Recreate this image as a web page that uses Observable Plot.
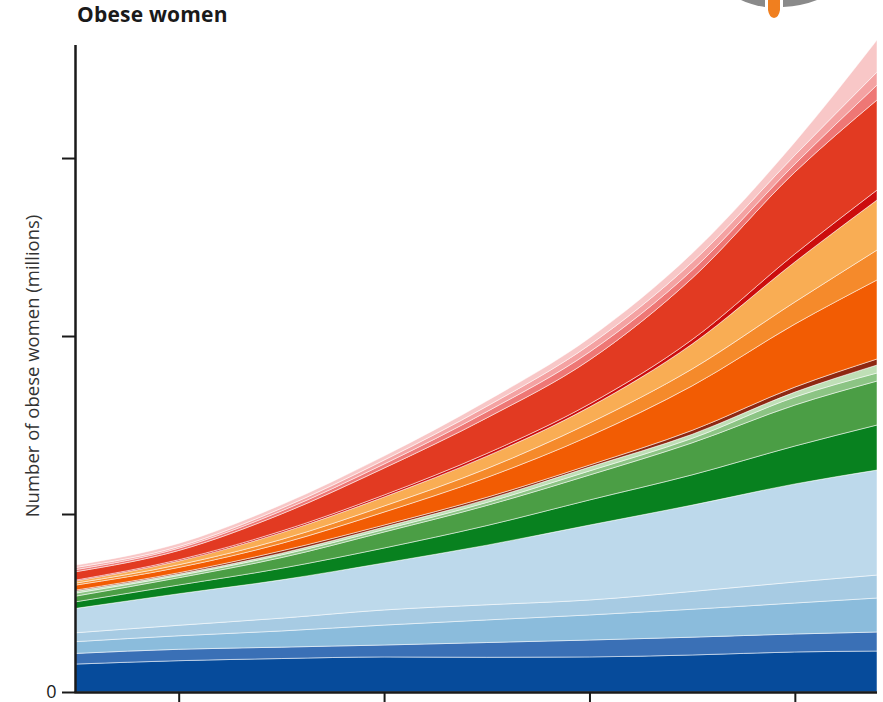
<!DOCTYPE html>
<html>
<head>
<meta charset="utf-8">
<script src="https://cdn.jsdelivr.net/npm/d3@7"></script>
<script src="https://cdn.jsdelivr.net/npm/@observablehq/plot@0.6"></script>
<style>
  html, body { margin: 0; padding: 0; background: #fff; }
  #wrap { position: relative; width: 883px; height: 702px; overflow: hidden; }
  #title { height: 30px; padding-left: 77px; font: 700 21px "Open Sans", sans-serif; line-height: 28px; color: #1a1a1a; letter-spacing: 0.2px; }
  #logo { position: absolute; left: 0; top: 0; }
</style>
</head>
<body>
<div id="wrap">
  <div id="title">Obese women</div>
  <div id="chart"></div>
  <svg id="logo" width="883" height="30">
    <path d="M741,0 L765,0 L765,7 Q751,5 741,0 Z" fill="#8a8a8a"/>
    <path d="M783,0 L817,0 Q802,6 783,7 Z" fill="#8a8a8a"/>
    <path d="M768,0 L780,0 L780,10 Q779,17 774,18 Q769,17 768,10 Z" fill="#f07f1f"/>
  </svg>
</div>
<script>
// Years on the x axis
const years = [1975, 1980, 1985, 1990, 1995, 2000, 2005, 2010, 2014];

// Stacked series, bottom to top (millions of obese women)
const seriesNames = [
  "Blue 1", "Blue 2", "Blue 3", "Blue 4", "Blue 5",
  "Green 1", "Green 2", "Green 3", "Green 4",
  "Brown",
  "Orange 1", "Orange 2", "Orange 3",
  "Dark red", "Red", "Pink 1", "Pink 2", "Pink 3"
];
const blue1   = [15.7, 17.6, 18.8, 19.7, 19.5, 19.7, 20.8, 22.5, 23.0];
const blue2   = [6.0, 6.4, 6.4, 6.7, 8.3, 9.5, 10.0, 10.1, 10.7];
const blue3   = [6.6, 7.6, 9.1, 11.2, 12.7, 14.1, 15.7, 17.4, 19.1];
const blue4   = [5.0, 5.9, 7.2, 8.5, 8.5, 8.4, 10.0, 11.8, 12.9];
const blue5   = [13.7, 17.7, 21.5, 26.4, 33.5, 42.1, 48.5, 55.1, 59.0];
const green1  = [3.7, 4.9, 6.5, 8.4, 11.0, 14.1, 17.0, 21.3, 25.3];
const green2  = [3.2, 4.1, 6.0, 9.0, 11.3, 14.0, 18.0, 23.0, 24.7];
const green3  = [1.7, 1.2, 1.5, 1.4, 1.7, 2.3, 2.5, 4.5, 4.5];
const green4  = [1.1, 0.9, 1.0, 1.4, 1.7, 2.2, 2.3, 2.8, 4.5];
const brown   = [0.6, 0.7, 1.3, 1.1, 1.2, 1.1, 2.2, 2.8, 3.4];
const orange1 = [2.8, 3.0, 4.2, 7.3, 11.1, 16.3, 25.0, 35.4, 44.4];
const orange2 = [1.1, 1.5, 2.2, 3.4, 5.0, 7.3, 9.5, 12.4, 16.8];
const orange3 = [1.2, 2.1, 3.8, 5.1, 7.0, 9.0, 14.0, 22.5, 28.1];
const darkRed = [0.5, 0.7, 0.9, 1.1, 1.5, 1.7, 2.5, 4.5, 5.6];
const red     = [4.7, 5.2, 9.6, 15.1, 20.0, 24.7, 34.5, 46.0, 50.6];
const pink1   = [1.2, 1.3, 1.7, 2.3, 3.5, 4.5, 4.5, 4.5, 8.4];
const pink2   = [1.2, 0.9, 1.5, 2.2, 3.0, 4.0, 4.5, 5.0, 7.3];
const pink3   = [1.3, 1.8, 2.0, 2.3, 3.0, 3.9, 5.0, 7.3, 18.0];
const seriesValues = [blue1, blue2, blue3, blue4, blue5, green1, green2, green3, green4,
  brown, orange1, orange2, orange3, darkRed, red, pink1, pink2, pink3];

// Axis ticks
const yTicks = [0, 100, 200, 300];
const xTicks = [1980, 1990, 2000, 2010];
const yLabel = "Number of obese women (millions)";

const seriesColors = [
  "#064b9b", "#3a70b6", "#8bbcdc", "#a7cbe3", "#bdd9eb",
  "#08811f", "#4b9e45", "#8cc484", "#bfdfb6",
  "#8e2812",
  "#f25c03", "#f58a2b", "#f9ad54",
  "#cc0d0d", "#e23a22", "#ee7775", "#f4a2a2", "#f8c7c7"
];

const rows = [];
seriesNames.forEach((name, i) => {
  years.forEach((yr, j) => rows.push({year: yr, series: name, value: seriesValues[i][j]}));
});

const chart = Plot.plot({
  width: 883,
  height: 672,
  marginLeft: 76,
  marginRight: 6,
  marginTop: 15,
  marginBottom: 10,
  style: {fontFamily: "'Open Sans', sans-serif", fontSize: "17px", color: "#1a1a1a", background: "white"},
  x: {domain: [1975, 2014], axis: null},
  y: {domain: [0, 363.5], axis: null},
  color: {domain: seriesNames, range: seriesColors},
  marks: [
    Plot.areaY(rows, {x: "year", y: "value", z: "series", fill: "series", curve: "monotone-x",
      stroke: "white", strokeWidth: 0.6, strokeOpacity: 0.85}),
    Plot.axisX({ticks: xTicks, tickFormat: () => "", tickSize: 10, strokeWidth: 2, stroke: "#1a1a1a", label: null}),
    Plot.axisY({ticks: yTicks, tickFormat: d => d === 0 ? "0" : "", tickSize: 13, tickPadding: 6,
      strokeWidth: 2, stroke: "#1a1a1a", fontSize: 18, fill: "#1a1a1a", label: null, dx: -1}),
    Plot.ruleY([0], {stroke: "#1a1a1a", strokeWidth: 2.5, x1: 1974.93, x2: 2014}),
    Plot.ruleX([1975], {stroke: "#1a1a1a", strokeWidth: 2.5, dx: -1}),
    Plot.text([yLabel], {frameAnchor: "left", textAnchor: "middle", dx: -43, dy: -3, rotate: -90,
      fontSize: 18.5, fill: "#333"})
  ]
});
document.getElementById("chart").appendChild(chart);
</script>
</body>
</html>
